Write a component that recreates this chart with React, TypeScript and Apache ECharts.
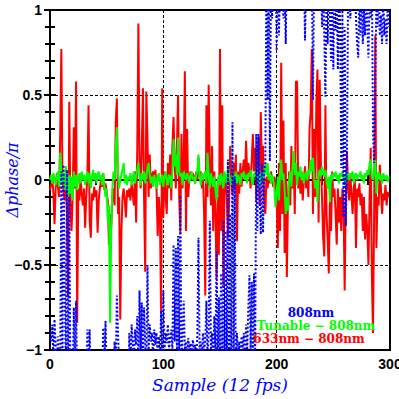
import React, { useEffect, useRef } from "react";
import * as echarts from "echarts";

const xTicks = [0, 100, 200, 300];
const yTicks = [-1, -0.5, 0, 0.5, 1];
const legendLabels = ["808nm", "Tunable − 808nm", "633nm − 808nm"];

const red808 = [
-0.06,-0.03,0.02,-0.08,-0.26,-0.05,0.04,-0.04,-0.1,0.27,
0.77,0.02,-0.08,-0.12,-0.05,-0.2,-0.69,0.46,-0.15,-0.3,
-0.1,0.31,-0.05,0.58,-0.84,-0.05,-0.12,0.02,-0.08,-0.15,
-0.05,-0.28,-0.1,0.02,0.44,-0.24,-0.34,-0.08,-0.12,-0.04,
-0.1,-0.06,-0.31,-0.12,-0.05,0.0,-0.04,0.04,-0.06,-0.02,
-0.08,-0.12,-0.38,-0.2,-0.28,-0.1,-0.05,-0.15,0.33,0.48,
-0.2,-0.1,-0.82,-0.3,-0.1,-0.05,-0.12,-0.22,-0.06,-0.1,
-0.05,-0.12,-0.02,-0.08,-0.15,0.05,-0.25,0.19,0.92,0.1,
-0.05,0.2,0.54,-0.1,-0.54,0.52,0.25,-0.1,0.15,-0.05,
0.03,0.05,0.0,0.06,-0.05,-0.33,-0.1,-0.2,-0.78,0.54,
-0.22,0.05,-0.1,-0.2,0.1,-0.05,0.15,-0.12,0.2,0.37,
0.1,-0.05,0.2,0.5,-0.1,-0.31,0.27,-0.05,0.1,0.64,
-0.3,0.3,-0.1,0.02,0.05,0.0,0.04,0.02,-0.02,0.05,
0.0,0.13,0.02,0.05,-0.05,0.03,-0.2,-0.68,0.44,-0.1,
0.56,0.1,-0.15,0.2,-0.3,0.05,-0.2,-0.58,-0.1,-0.44,
0.77,-0.3,0.44,-0.62,-0.05,0.0,-0.1,-0.34,-0.15,0.2,
0.0,-0.08,0.1,-0.05,0.15,-0.36,0.05,-0.08,0.1,-0.04,
0.05,0.12,0.0,0.23,0.03,0.1,0.05,-0.05,0.12,0.27,
0.05,0.19,-0.12,0.1,0.25,-0.15,0.4,0.05,0.2,-0.12,
-0.2,0.02,-0.05,0.03,-0.02,0.05,0.0,-0.04,0.02,-0.03,
-0.1,-0.4,0.1,-0.3,0.69,-0.2,0.35,-0.43,0.1,-0.57,
-0.1,0.05,-0.15,0.2,-0.05,0.1,-0.2,0.58,0.58,-0.05,
0.02,-0.08,0.05,-0.12,0.0,0.08,-0.05,0.03,-0.1,0.3,
0.4,0.77,-0.2,0.3,-0.1,0.45,0.65,-0.25,0.59,0.1,
-0.1,-0.34,-0.45,0.44,-0.2,-0.35,-0.55,-0.1,-0.3,0.05,
-0.1,-0.05,-0.2,-0.38,-0.05,-0.25,-0.1,-0.3,-0.05,-0.15,
-0.65,-0.1,0.17,-0.05,-0.12,0.03,-0.08,-0.2,-0.05,0.0,
-0.4,-0.05,-0.1,-0.02,-0.15,-0.08,-0.3,-0.1,-0.35,-0.2,
-0.3,-0.5,-0.1,0.19,-0.56,-0.9,-0.2,0.85,-0.4,-0.1,
-0.15,0.09,-0.05,-0.2,-0.08,-0.12,-0.03,-0.15,-0.07,-0.1
];

const tunable808 = [
0.0,0.03,-0.02,0.04,0.01,-0.03,0.02,0.05,-0.04,0.16,
0.05,-0.02,0.04,-0.06,0.08,0.0,-0.1,0.03,-0.08,0.02,
-0.12,0.05,-0.04,0.03,-0.06,0.02,0.04,-0.02,0.05,0.0,
0.03,-0.03,0.02,0.05,-0.02,0.04,-0.05,0.02,0.06,0.0,
0.04,-0.02,0.03,0.05,0.0,0.03,-0.03,0.04,-0.04,-0.1,
-0.05,-0.25,-0.15,-0.84,-0.3,-0.05,0.05,0.0,0.2,0.31,
0.05,-0.05,0.0,0.03,0.06,0.1,-0.02,0.03,-0.03,0.02,
0.0,0.04,-0.03,0.02,0.05,-0.02,0.03,0.06,0.1,0.02,
-0.03,0.04,0.0,0.05,-0.02,0.03,0.06,0.1,0.03,-0.02,
0.02,-0.04,0.03,0.0,-0.05,0.02,0.04,-0.03,0.0,0.03,
-0.04,0.02,0.05,0.0,-0.03,0.03,0.02,-0.05,0.04,0.24,
0.08,0.15,0.03,0.25,0.05,0.02,0.04,-0.03,0.05,0.02,
0.0,0.04,0.02,-0.02,0.03,0.05,0.0,0.02,-0.02,0.03,
0.05,0.15,0.02,-0.03,0.04,0.0,0.03,0.05,-0.02,0.16,
0.03,-0.05,0.04,0.0,-0.04,0.02,-0.06,-0.12,0.0,0.03,
-0.03,0.04,0.0,-0.05,0.05,0.02,-0.02,0.08,0.03,0.0,
-0.03,0.04,0.02,0.0,0.05,-0.02,0.03,0.01,-0.03,0.04,
0.02,0.05,0.0,0.03,-0.02,0.04,0.02,0.06,0.0,-0.03,
0.04,0.02,0.07,0.0,0.03,-0.04,0.05,0.02,0.0,0.04,
0.09,0.03,0.1,0.0,0.04,-0.02,0.03,0.0,-0.05,-0.16,
-0.08,0.02,-0.12,0.05,0.12,0.0,0.04,-0.05,-0.2,-0.1,
-0.18,0.0,0.05,-0.04,0.08,0.17,0.03,0.1,-0.03,0.05,
0.02,0.08,0.0,0.04,-0.02,0.03,0.05,0.0,0.06,0.03,
0.12,0.05,0.13,0.02,-0.05,0.0,-0.13,0.03,0.06,0.02,
0.08,0.05,0.02,0.06,0.0,-0.05,0.02,-0.13,0.03,0.0,
0.04,0.02,0.05,0.0,0.03,-0.02,0.04,0.02,0.05,0.0,
0.03,-0.03,0.05,0.02,0.0,0.04,0.02,0.05,-0.02,0.03,
0.04,0.0,0.03,0.02,0.05,0.0,0.03,-0.02,0.04,0.02,
0.06,0.03,0.1,0.12,0.02,0.0,0.05,0.12,-0.08,0.03,
0.05,0.0,0.03,-0.02,0.04,0.02,0.0,0.03,-0.01,0.02
];

const nm808 = [
-0.9,-0.95,-0.85,-1.05,-0.82,-0.98,-1.1,-0.92,-1.2,-1.05,
0.05,-1.1,0.09,-0.6,-1.15,0.06,-1.2,-0.1,-1.2,-1.3,
-1.2,-0.75,-1.1,-0.71,-1.2,-1.3,-1.2,-1.25,-1.3,-1.2,
-1.3,-1.2,-1.25,-0.88,-1.1,-0.88,-1.2,-1.3,-1.2,-1.25,
-1.2,-1.3,-1.2,-1.25,-1.2,-1.3,-1.15,-0.87,-1.1,-0.83,
-1.2,-1.3,-1.25,-1.2,-1.3,-1.2,-1.3,-0.95,-1.1,-0.68,
-0.9,-1.1,-1.25,-1.3,-1.2,-1.25,-1.3,-1.2,-1.25,-1.2,
-0.9,-1.2,-0.85,-0.95,-1.1,-0.88,-0.97,-0.8,-1.1,-0.65,
-1.05,-0.72,-1.1,-0.75,-0.95,-1.1,-0.5,-1.0,-0.85,-0.95,
-0.9,-1.05,-0.88,-0.97,-0.9,-1.05,-0.92,-1.1,-0.77,-1.05,
-0.65,-1.0,-0.9,-0.96,-0.85,-1.0,-0.92,-0.88,-1.0,-0.38,
-0.95,-0.4,-1.0,-0.33,-1.05,-0.09,-1.1,-0.9,-0.71,-1.0,
-0.95,-1.05,-0.93,-1.0,-0.96,-1.1,-0.94,-1.0,-0.97,-1.05,
-0.92,-0.34,-1.0,-0.95,-1.05,-0.9,-1.0,-0.95,-0.71,-1.05,
-0.9,-0.24,-1.0,-0.9,-1.05,-0.8,-1.0,-0.42,-1.1,-0.69,
-1.0,-0.55,-1.1,-0.24,-1.0,-0.3,-1.2,0.12,-1.2,-0.2,
-1.1,0.34,-1.2,0.02,-1.2,-0.9,-1.1,-0.95,-1.05,-0.92,
-1.0,-0.9,-1.05,-0.85,-1.0,-0.75,-0.56,-1.0,-0.6,-1.05,
-0.55,-1.1,0.27,-0.3,0.27,-0.1,-0.32,0.1,-0.31,0.05,
0.1,1.3,0.47,1.2,0.11,1.3,0.95,1.2,1.1,1.3,
0.76,1.2,0.85,1.15,1.3,1.2,0.95,1.2,0.8,1.3,
1.2,1.3,1.15,1.3,1.2,1.3,1.25,1.3,1.2,1.3,
1.25,1.3,1.2,1.3,1.25,0.82,1.2,1.3,1.25,1.3,
1.2,1.3,0.47,1.2,1.3,1.25,1.3,1.2,1.05,1.3,
0.9,1.2,0.85,0.49,1.1,0.8,1.2,0.95,0.7,1.1,
0.65,1.2,0.88,1.1,0.65,1.2,0.9,0.07,1.0,-0.22,
0.9,-0.27,0.09,1.1,1.2,0.95,1.1,1.3,1.05,1.2,
0.95,0.8,0.72,1.1,0.85,1.2,0.8,1.0,0.85,1.2,
0.9,0.72,1.1,0.95,1.2,0.29,0.1,0.5,1.1,0.9,
1.2,0.85,0.97,0.8,1.1,0.85,0.95,0.8,1.05,0.9
];

const toPairs = (arr: number[]) => arr.map((v, i) => [i, v]);
const fmtY = (v: number) => (v < 0 ? "−" + Math.abs(v) : String(v));

export default function App() {
  const ref = useRef<HTMLDivElement>(null);
  useEffect(() => {
    if (!ref.current) return;
    const chart = echarts.init(ref.current, null, { renderer: "svg" });
    const labelFont = { fontFamily: "Liberation Sans", fontWeight: "bold" as const, fontSize: 14, color: "#000" };
    const nameFont = { fontFamily: "DejaVu Serif", fontStyle: "italic" as const, fontSize: 17, color: "#0000ff" };
    const baseX = {
      type: "value" as const,
      min: xTicks[0],
      max: xTicks[xTicks.length - 1],
      interval: 100,
      axisLine: { show: true, lineStyle: { color: "#000", width: 2 } },
      axisTick: { show: true, inside: true, length: 6, lineStyle: { color: "#000", width: 2 } },
      minorTick: { show: true, splitNumber: 5, length: 5, lineStyle: { color: "#000", width: 2 } },
    };
    const baseY = {
      type: "value" as const,
      min: yTicks[0],
      max: yTicks[yTicks.length - 1],
      interval: 0.5,
      axisLine: { show: true, lineStyle: { color: "#000", width: 2 } },
      axisTick: { show: true, inside: true, length: 6, lineStyle: { color: "#000", width: 2 } },
      minorTick: { show: true, splitNumber: 5, length: 5, lineStyle: { color: "#000", width: 2 } },
    };
    const legendFont = "bold 12px 'DejaVu Serif'";
    chart.setOption({
      animation: false,
      backgroundColor: "#fff",
      grid: {
        left: 50, right: 9, top: 10, bottom: 49,
        containLabel: false, outerBoundsMode: "none",
        show: true, borderColor: "#000", borderWidth: 2, backgroundColor: "#fff",
      },
      xAxis: [
        {
          ...baseX,
          position: "bottom",
          name: "Sample (12 fps)",
          nameLocation: "middle",
          nameGap: 26,
          nameMoveOverlap: false,
          nameTextStyle: nameFont,
          axisLabel: { ...labelFont, margin: 7, formatter: (v: number) => String(v) },
          splitLine: { show: true, lineStyle: { color: "#000", width: 1, type: [3, 2] } },
        },
        {
          ...baseX,
          position: "top",
          axisLabel: { show: false },
          splitLine: { show: false },
        },
      ],
      yAxis: [
        {
          ...baseY,
          position: "left",
          name: "Δphase/π",
          nameLocation: "middle",
          nameGap: 30,
          nameMoveOverlap: false,
          nameTextStyle: { ...nameFont, fontSize: 16 },
          axisLabel: { ...labelFont, margin: 8, formatter: fmtY },
          splitLine: { show: true, lineStyle: { color: "#000", width: 1, type: [3, 2] } },
        },
        {
          ...baseY,
          position: "right",
          axisLabel: { show: false },
          splitLine: { show: false },
        },
      ],
      series: [
        {
          name: legendLabels[2],
          type: "line",
          data: toPairs(red808),
          showSymbol: false,
          clip: true,
          z: 2,
          lineStyle: { color: "#ff0000", width: 2 },
        },
        {
          name: legendLabels[1],
          type: "line",
          data: toPairs(tunable808),
          showSymbol: false,
          clip: true,
          z: 3,
          lineStyle: { color: "#00ff00", width: 2 },
        },
        {
          name: legendLabels[0],
          type: "line",
          data: toPairs(nm808),
          showSymbol: false,
          clip: true,
          z: 4,
          lineStyle: { color: "#0000ff", width: 2, type: [2, 2] },
        },
      ],
      graphic: [
        { type: "text", x: 311, y: 313, z: 10, style: { text: legendLabels[0], fill: "#0000ff", font: legendFont, textAlign: "center", textVerticalAlign: "middle" } },
        { type: "text", x: 316, y: 326, z: 10, style: { text: legendLabels[1], fill: "#00ff00", font: legendFont, textAlign: "center", textVerticalAlign: "middle" } },
        { type: "text", x: 309, y: 339, z: 10, style: { text: legendLabels[2], fill: "#ff0000", font: legendFont, textAlign: "center", textVerticalAlign: "middle" } },
      ],
    });
    return () => chart.dispose();
  }, []);
  return <div ref={ref} style={{ position: "fixed", left: 0, top: 0, width: 399, height: 399 }} />;
}
